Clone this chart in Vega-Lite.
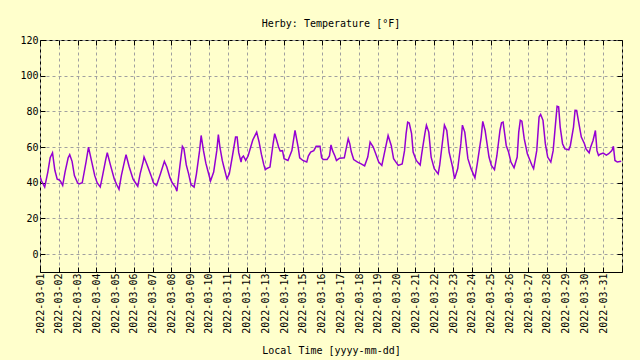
{
  "$schema": "https://vega.github.io/schema/vega-lite/v6.json",
  "width": 582,
  "height": 232,
  "autosize": {"type": "none"},
  "padding": {"left": 40, "top": 40, "right": 18, "bottom": 88},
  "background": "#ffffcc",
  "config": {
    "view": {"stroke": "#000000", "strokeWidth": 1, "fill": "#ffffcc"},
    "font": "DejaVu Sans Mono",
    "axis": {"labelFont": "DejaVu Sans Mono", "titleFont": "DejaVu Sans Mono", "labelFontSize": 10, "titleFontSize": 10, "labelColor": "#000000", "titleColor": "#000000", "titleFontWeight": "normal", "domain": false, "tickColor": "#000000", "gridColor": "#a0a0a0", "gridDash": [3, 3], "gridOpacity": 1, "gridWidth": 1}
  },
  "title": {"text": "Herby: Temperature [°F]", "font": "DejaVu Sans Mono", "fontSize": 10, "fontWeight": "normal", "color": "#000000", "anchor": "middle", "offset": 6},
  "data": {"values": [
    {"t": "2022-03-01T00:00", "v": 43.5}, {"t": "2022-03-01T02:00", "v": 41}, {"t": "2022-03-01T06:00", "v": 37.6}, {"t": "2022-03-01T10:00", "v": 46}, {"t": "2022-03-01T13:00", "v": 54}, {"t": "2022-03-01T16:00", "v": 56.8}, {"t": "2022-03-01T19:00", "v": 47}, {"t": "2022-03-01T22:00", "v": 42},
    {"t": "2022-03-02T00:00", "v": 41.7}, {"t": "2022-03-02T02:00", "v": 41}, {"t": "2022-03-02T05:00", "v": 38.5}, {"t": "2022-03-02T08:00", "v": 46}, {"t": "2022-03-02T12:00", "v": 54}, {"t": "2022-03-02T14:00", "v": 55.7}, {"t": "2022-03-02T17:00", "v": 52}, {"t": "2022-03-02T20:00", "v": 44},
    {"t": "2022-03-03T00:00", "v": 40}, {"t": "2022-03-03T02:00", "v": 39.4}, {"t": "2022-03-03T06:00", "v": 40}, {"t": "2022-03-03T11:00", "v": 52}, {"t": "2022-03-03T14:00", "v": 60}, {"t": "2022-03-03T18:00", "v": 52}, {"t": "2022-03-03T22:00", "v": 44},
    {"t": "2022-03-04T01:00", "v": 40}, {"t": "2022-03-04T05:00", "v": 37.6}, {"t": "2022-03-04T08:00", "v": 44}, {"t": "2022-03-04T12:00", "v": 53}, {"t": "2022-03-04T14:00", "v": 56.8}, {"t": "2022-03-04T18:00", "v": 50}, {"t": "2022-03-04T23:00", "v": 42},
    {"t": "2022-03-05T02:00", "v": 39}, {"t": "2022-03-05T05:00", "v": 36.3}, {"t": "2022-03-05T08:00", "v": 44}, {"t": "2022-03-05T12:00", "v": 52}, {"t": "2022-03-05T14:00", "v": 55.7}, {"t": "2022-03-05T18:00", "v": 49}, {"t": "2022-03-05T23:00", "v": 42},
    {"t": "2022-03-06T02:00", "v": 40}, {"t": "2022-03-06T05:00", "v": 38}, {"t": "2022-03-06T08:00", "v": 45}, {"t": "2022-03-06T12:00", "v": 52}, {"t": "2022-03-06T13:00", "v": 54.4}, {"t": "2022-03-06T17:00", "v": 50}, {"t": "2022-03-06T22:00", "v": 44},
    {"t": "2022-03-07T01:00", "v": 40}, {"t": "2022-03-07T05:00", "v": 38.5}, {"t": "2022-03-07T10:00", "v": 45}, {"t": "2022-03-07T15:00", "v": 52}, {"t": "2022-03-07T18:00", "v": 49}, {"t": "2022-03-07T22:00", "v": 43},
    {"t": "2022-03-08T01:00", "v": 40}, {"t": "2022-03-08T05:00", "v": 37.6}, {"t": "2022-03-08T07:00", "v": 35.3}, {"t": "2022-03-08T11:00", "v": 50}, {"t": "2022-03-08T14:00", "v": 60.4}, {"t": "2022-03-08T16:00", "v": 59}, {"t": "2022-03-08T19:00", "v": 50}, {"t": "2022-03-08T22:00", "v": 45},
    {"t": "2022-03-09T01:00", "v": 39}, {"t": "2022-03-09T05:00", "v": 37.6}, {"t": "2022-03-09T08:00", "v": 45}, {"t": "2022-03-09T12:00", "v": 58}, {"t": "2022-03-09T14:00", "v": 66.5}, {"t": "2022-03-09T17:00", "v": 58}, {"t": "2022-03-09T20:00", "v": 51}, {"t": "2022-03-09T23:00", "v": 46},
    {"t": "2022-03-10T02:00", "v": 41}, {"t": "2022-03-10T06:00", "v": 46}, {"t": "2022-03-10T10:00", "v": 58}, {"t": "2022-03-10T12:00", "v": 67}, {"t": "2022-03-10T14:00", "v": 60}, {"t": "2022-03-10T17:00", "v": 52.5}, {"t": "2022-03-10T19:00", "v": 49}, {"t": "2022-03-10T23:00", "v": 42.2},
    {"t": "2022-03-11T02:00", "v": 45}, {"t": "2022-03-11T06:00", "v": 55}, {"t": "2022-03-11T10:00", "v": 65.6}, {"t": "2022-03-11T12:00", "v": 65.6}, {"t": "2022-03-11T14:00", "v": 57}, {"t": "2022-03-11T17:00", "v": 51.6}, {"t": "2022-03-11T18:00", "v": 54}, {"t": "2022-03-11T20:00", "v": 55}, {"t": "2022-03-11T23:00", "v": 52.5},
    {"t": "2022-03-12T02:00", "v": 55}, {"t": "2022-03-12T08:00", "v": 64}, {"t": "2022-03-12T13:00", "v": 68.4}, {"t": "2022-03-12T16:00", "v": 63}, {"t": "2022-03-12T19:00", "v": 56}, {"t": "2022-03-12T22:00", "v": 50.3},
    {"t": "2022-03-13T00:00", "v": 47.3}, {"t": "2022-03-13T02:00", "v": 48}, {"t": "2022-03-13T06:00", "v": 48.8}, {"t": "2022-03-13T10:00", "v": 62}, {"t": "2022-03-13T12:00", "v": 67.5}, {"t": "2022-03-13T14:00", "v": 64.7}, {"t": "2022-03-13T17:00", "v": 60}, {"t": "2022-03-13T19:00", "v": 57.8}, {"t": "2022-03-13T22:00", "v": 58},
    {"t": "2022-03-14T00:00", "v": 53.5}, {"t": "2022-03-14T05:00", "v": 52.5}, {"t": "2022-03-14T10:00", "v": 58}, {"t": "2022-03-14T14:00", "v": 69.3}, {"t": "2022-03-14T18:00", "v": 60}, {"t": "2022-03-14T20:00", "v": 54},
    {"t": "2022-03-15T00:00", "v": 52.5}, {"t": "2022-03-15T05:00", "v": 51.6}, {"t": "2022-03-15T07:00", "v": 55}, {"t": "2022-03-15T10:00", "v": 57.2}, {"t": "2022-03-15T14:00", "v": 58}, {"t": "2022-03-15T17:00", "v": 60.4}, {"t": "2022-03-15T22:00", "v": 60.4},
    {"t": "2022-03-16T00:00", "v": 54}, {"t": "2022-03-16T02:00", "v": 53}, {"t": "2022-03-16T07:00", "v": 53}, {"t": "2022-03-16T10:00", "v": 55}, {"t": "2022-03-16T12:00", "v": 61.2}, {"t": "2022-03-16T14:00", "v": 58}, {"t": "2022-03-16T17:00", "v": 55}, {"t": "2022-03-16T19:00", "v": 52.5}, {"t": "2022-03-16T23:00", "v": 53.8},
    {"t": "2022-03-17T05:00", "v": 54}, {"t": "2022-03-17T10:00", "v": 64.7}, {"t": "2022-03-17T12:00", "v": 61.9}, {"t": "2022-03-17T14:00", "v": 57.2}, {"t": "2022-03-17T17:00", "v": 53}, {"t": "2022-03-17T22:00", "v": 51.6},
    {"t": "2022-03-18T02:00", "v": 50.7}, {"t": "2022-03-18T07:00", "v": 49.5}, {"t": "2022-03-18T11:00", "v": 54.4}, {"t": "2022-03-18T14:00", "v": 62.8}, {"t": "2022-03-18T18:00", "v": 60}, {"t": "2022-03-18T22:00", "v": 55.3},
    {"t": "2022-03-19T01:00", "v": 51.6}, {"t": "2022-03-19T05:00", "v": 49.7}, {"t": "2022-03-19T08:00", "v": 56}, {"t": "2022-03-19T13:00", "v": 66.5}, {"t": "2022-03-19T17:00", "v": 60.9}, {"t": "2022-03-19T20:00", "v": 53.5}, {"t": "2022-03-19T23:00", "v": 51.6},
    {"t": "2022-03-20T02:00", "v": 49.7}, {"t": "2022-03-20T07:00", "v": 50.5}, {"t": "2022-03-20T10:00", "v": 58}, {"t": "2022-03-20T12:00", "v": 67.5}, {"t": "2022-03-20T14:00", "v": 74}, {"t": "2022-03-20T16:00", "v": 73.5}, {"t": "2022-03-20T19:00", "v": 67.5}, {"t": "2022-03-20T21:00", "v": 57.2},
    {"t": "2022-03-21T01:00", "v": 52.5}, {"t": "2022-03-21T04:00", "v": 51}, {"t": "2022-03-21T06:00", "v": 50}, {"t": "2022-03-21T08:00", "v": 56.3}, {"t": "2022-03-21T12:00", "v": 67.5}, {"t": "2022-03-21T14:00", "v": 72.3}, {"t": "2022-03-21T17:00", "v": 68.4}, {"t": "2022-03-21T20:00", "v": 54.4},
    {"t": "2022-03-22T00:00", "v": 47.9}, {"t": "2022-03-22T05:00", "v": 45}, {"t": "2022-03-22T07:00", "v": 50}, {"t": "2022-03-22T11:00", "v": 64.7}, {"t": "2022-03-22T13:00", "v": 72.3}, {"t": "2022-03-22T16:00", "v": 69.3}, {"t": "2022-03-22T19:00", "v": 57.2}, {"t": "2022-03-22T23:00", "v": 49.7},
    {"t": "2022-03-23T02:00", "v": 42.2}, {"t": "2022-03-23T06:00", "v": 48}, {"t": "2022-03-23T10:00", "v": 61.9}, {"t": "2022-03-23T12:00", "v": 72.3}, {"t": "2022-03-23T15:00", "v": 68.4}, {"t": "2022-03-23T19:00", "v": 53.5}, {"t": "2022-03-23T23:00", "v": 47.9},
    {"t": "2022-03-24T04:00", "v": 42.8}, {"t": "2022-03-24T07:00", "v": 50.7}, {"t": "2022-03-24T12:00", "v": 65.6}, {"t": "2022-03-24T14:00", "v": 74.4}, {"t": "2022-03-24T17:00", "v": 69.3}, {"t": "2022-03-24T22:00", "v": 54.4},
    {"t": "2022-03-25T01:00", "v": 49.7}, {"t": "2022-03-25T05:00", "v": 47.3}, {"t": "2022-03-25T08:00", "v": 55}, {"t": "2022-03-25T12:00", "v": 69.3}, {"t": "2022-03-25T14:00", "v": 73.6}, {"t": "2022-03-25T16:00", "v": 74}, {"t": "2022-03-25T18:00", "v": 67.5}, {"t": "2022-03-25T20:00", "v": 60.9}, {"t": "2022-03-25T23:00", "v": 57.2},
    {"t": "2022-03-26T02:00", "v": 51.6}, {"t": "2022-03-26T06:00", "v": 48.4}, {"t": "2022-03-26T10:00", "v": 54.4}, {"t": "2022-03-26T12:00", "v": 68.4}, {"t": "2022-03-26T14:00", "v": 75}, {"t": "2022-03-26T16:00", "v": 74.5}, {"t": "2022-03-26T19:00", "v": 64.7}, {"t": "2022-03-26T23:00", "v": 56.3},
    {"t": "2022-03-27T05:00", "v": 49.7}, {"t": "2022-03-27T07:00", "v": 47.9}, {"t": "2022-03-27T11:00", "v": 58}, {"t": "2022-03-27T14:00", "v": 76.8}, {"t": "2022-03-27T16:00", "v": 78.3}, {"t": "2022-03-27T19:00", "v": 75}, {"t": "2022-03-27T22:00", "v": 61.9},
    {"t": "2022-03-28T01:00", "v": 54.4}, {"t": "2022-03-28T05:00", "v": 51.6}, {"t": "2022-03-28T08:00", "v": 58}, {"t": "2022-03-28T11:00", "v": 73}, {"t": "2022-03-28T13:00", "v": 82.8}, {"t": "2022-03-28T15:00", "v": 82.5}, {"t": "2022-03-28T17:00", "v": 71.2}, {"t": "2022-03-28T20:00", "v": 61.9}, {"t": "2022-03-28T23:00", "v": 59},
    {"t": "2022-03-29T04:00", "v": 58.5}, {"t": "2022-03-29T06:00", "v": 60.9}, {"t": "2022-03-29T10:00", "v": 71.2}, {"t": "2022-03-29T12:00", "v": 80.6}, {"t": "2022-03-29T14:00", "v": 80.5}, {"t": "2022-03-29T17:00", "v": 73}, {"t": "2022-03-29T20:00", "v": 65.6},
    {"t": "2022-03-30T00:00", "v": 61.9}, {"t": "2022-03-30T02:00", "v": 59}, {"t": "2022-03-30T06:00", "v": 56.8}, {"t": "2022-03-30T08:00", "v": 60}, {"t": "2022-03-30T11:00", "v": 63.7}, {"t": "2022-03-30T14:00", "v": 69.3}, {"t": "2022-03-30T16:00", "v": 58}, {"t": "2022-03-30T18:00", "v": 55.3}, {"t": "2022-03-30T20:00", "v": 56},
    {"t": "2022-03-31T00:00", "v": 56.6}, {"t": "2022-03-31T04:00", "v": 55.5}, {"t": "2022-03-31T07:00", "v": 56.3}, {"t": "2022-03-31T11:00", "v": 58}, {"t": "2022-03-31T13:00", "v": 60.4}, {"t": "2022-03-31T15:00", "v": 52.5}, {"t": "2022-03-31T18:00", "v": 51.6}, {"t": "2022-03-31T23:00", "v": 52}
  ]},
  "layer": [
    {
      "mark": {"type": "line", "color": "#9400d3", "strokeWidth": 1.5, "clip": true},
      "encoding": {
        "x": {"field": "t", "type": "temporal",
          "scale": {"domain": [{"year": 2022, "month": 3, "date": 1}, {"year": 2022, "month": 4, "date": 1}], "nice": false},
          "axis": {"title": "Local Time [yyyy-mm-dd]", "format": "%Y-%m-%d", "tickCount": {"interval": "day", "step": 1}, "labelExpr": "datum.value >= datetime(2022, 3, 1) ? '' : timeFormat(datum.value, '%Y-%m-%d')", "labelAngle": 270, "labelAlign": "right", "labelBaseline": "middle", "labelPadding": 6, "tickSize": -5, "labelOverlap": false, "labelFlush": false, "titlePadding": 12, "grid": true}},
        "y": {"field": "v", "type": "quantitative",
          "scale": {"domain": [-10, 120], "nice": false, "zero": false},
          "axis": {"title": null, "values": [0, 20, 40, 60, 80, 100, 120], "tickSize": -5, "labelPadding": 7, "grid": true}}
      }
    },
    {
      "mark": {"type": "line", "opacity": 0},
      "encoding": {
        "x": {"field": "t", "type": "temporal", "axis": {"orient": "top", "title": null, "labels": false, "grid": false, "tickSize": -5, "tickCount": {"interval": "day", "step": 1}}},
        "y": {"field": "v", "type": "quantitative", "axis": {"orient": "right", "title": null, "labels": false, "grid": false, "tickSize": -5, "values": [0, 20, 40, 60, 80, 100, 120]}}
      }
    }
  ],
  "resolve": {"axis": {"x": "independent", "y": "independent"}}
}
